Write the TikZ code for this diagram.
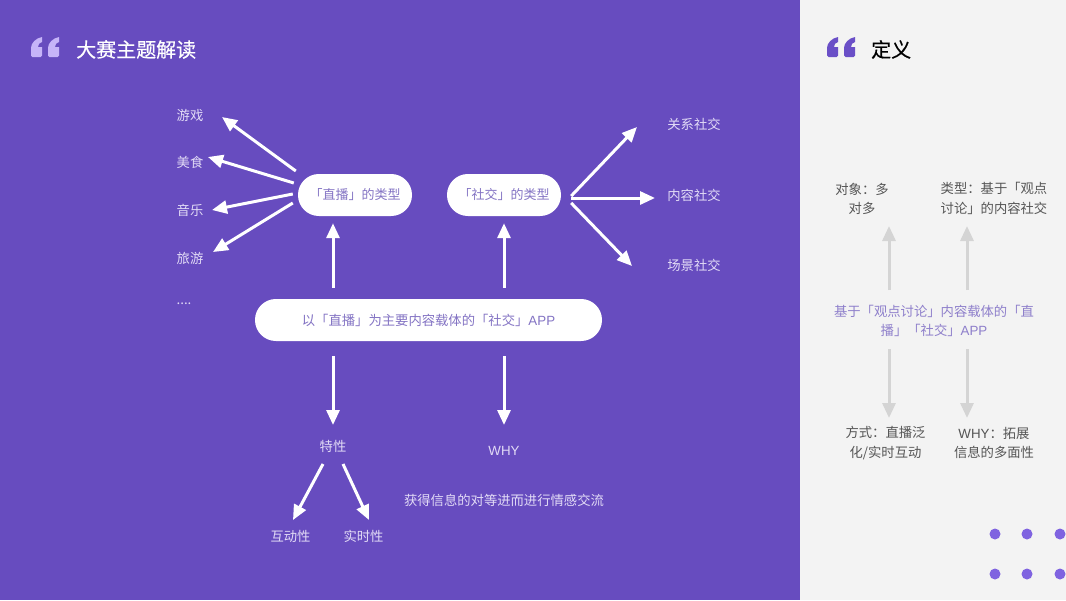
\documentclass[tikz,border=0pt]{standalone}
\usepackage{fontspec}
\setmainfont{Noto Sans CJK SC}
\newfontfamily\lat{Liberation Sans}
\usetikzlibrary{arrows.meta}
\definecolor{bgp}{HTML}{674CBF}
\definecolor{panel}{HTML}{F3F3F3}
\definecolor{lbl}{HTML}{E2DBF6}
\definecolor{pilltxt}{HTML}{8474C4}
\definecolor{gtxt}{HTML}{555555}
\definecolor{deftxt}{HTML}{8E7FCB}
\definecolor{garrow}{HTML}{D4D4D4}
\definecolor{qlight}{HTML}{C6B4F8}
\definecolor{qdark}{HTML}{6A4FC7}
\definecolor{dotc}{HTML}{7F63E0}
\tikzset{
  pill/.style={fill=white,rounded corners=20.9pt,inner sep=0pt,minimum height=42pt,text=pilltxt,font=\fontsize{13.33}{19.5}\selectfont},
  smallpill/.style={pill,minimum width=114pt,font=\fontsize{13}{19.5}\selectfont},
  lab/.style={inner sep=0pt,text=lbl,font=\fontsize{13.33}{19.5}\selectfont},
  note/.style={inner sep=0pt,text=gtxt,align=center,font=\fontsize{13.33}{19.5}\selectfont},
  ttl/.style={inner sep=0pt,anchor=west,font=\fontsize{20}{24}\selectfont\addfontfeature{FakeBold=0.4}},
  arr/.style={draw=white,line width=3pt,-{Triangle[length=15pt,width=13pt]}},
  garr/.style={draw=garrow,line width=3pt,-{Triangle[length=15pt,width=13pt]}},
  dotn/.style={circle,fill=dotc,draw=none,minimum size=11pt,inner sep=0pt},
}
\newcommand{\quotemark}[3]{%
  \foreach \dx in {0,17}{
    \begin{scope}[shift={(#1+\dx,#2)}]
    \fill[#3] (0,11) .. controls (0,6) and (5,1) .. (11,0)
      -- (11,5) .. controls (8.5,5.5) and (7,7.5) .. (7,10)
      -- (11,10) -- (11,18.5) .. controls (11,19.5) and (10.5,20) .. (9.5,20)
      -- (1.5,20) .. controls (0.5,20) and (0,19.5) .. (0,18.5) -- cycle;
    \end{scope}
  }}
\begin{document}
\begin{tikzpicture}[x=1pt,y=-1pt]
\useasboundingbox (0,0) rectangle (1066,600);
\fill[bgp] (0,0) rectangle (800,600);
\fill[panel] (800,0) rectangle (1066,600);
\quotemark{31}{37}{qlight}
\quotemark{827}{37}{qdark}
\node[ttl,text=white] (title1) at (76,49.5) {大赛主题解读};
\node[ttl,text=black] (title2) at (871,49.5) {定义};

\node[smallpill] (live) at (355,195) {「直播」的类型};
\node[smallpill] (social) at (504,195) {「社交」的类型};
\node[pill,minimum width=347pt] (main) at (428.5,320) {以「直播」为主要内容载体的「社交」{\lat APP}};

\node[lab] (game) at (190,115.5) {游戏};
\node[lab] (food) at (190,162.5) {美食};
\node[lab] (music) at (190,210.5) {音乐};
\node[lab] (travel) at (190,258.5) {旅游};
\node[lab] (more) at (184,304) {....};
\node[lab] (guanxi) at (694,124.5) {关系社交};
\node[lab] (neirong) at (694,195.5) {内容社交};
\node[lab] (changjing) at (694,265.5) {场景社交};
\node[lab] (traits) at (333,446.5) {特性};
\node[lab] (why) at (504,450.5) {{\lat WHY}};
\node[lab] (gain) at (504,500) {获得信息的对等进而进行情感交流};
\node[lab] (hudong) at (290.5,536.5) {互动性};
\node[lab] (shishi) at (363.5,536.5) {实时性};

\draw[arr] ([shift={(-2,-24)}]live.west) -- ([shift={(32,1.5)}]game.center);
\draw[arr] ([shift={(-4,-12)}]live.west) -- ([shift={(18,-5.5)}]food.center);
\draw[arr] ([shift={(-5,-1)}]live.west) -- ([shift={(22,-0.5)}]music.center);
\draw[arr] ([shift={(-5,8)}]live.west) -- ([shift={(23,-6.5)}]travel.center);
\draw[arr] ([shift={(10,1)}]social.east) -- ([shift={(-57,2.5)}]guanxi.center);
\draw[arr] ([shift={(10,3)}]social.east) -- ([shift={(-39,2.5)}]neirong.center);
\draw[arr] ([shift={(10,8)}]social.east) -- ([shift={(-62,0.5)}]changjing.center);
\draw[arr] ([shift={(-95.5,-11)}]main.north) -- ([shift={(-22,7)}]live.south);
\draw[arr] ([shift={(75.5,-11)}]main.north) -- ([shift={(0,7)}]social.south);
\draw[arr] ([shift={(-95.5,15)}]main.south) -- ([shift={(0,-21.5)}]traits.center);
\draw[arr] ([shift={(75.5,15)}]main.south) -- ([shift={(0,-25.5)}]why.center);
\draw[arr] ([shift={(-10,17.5)}]traits.center) -- ([shift={(2.5,-16.5)}]hudong.center);
\draw[arr] ([shift={(10,17.5)}]traits.center) -- ([shift={(5.5,-16.5)}]shishi.center);

\node[note] (obj) at (862,199) {对象：多\\对多};
\node[note] (type) at (994,198.5) {类型：基于「观点\\讨论」的内容社交};
\node[note,text=deftxt] (def) at (934,321) {基于「观点讨论」内容载体的「直\\播」「社交」{\lat APP}};
\node[note] (way) at (885.5,443) {方式：直播泛\\化/实时互动};
\node[note] (whyr) at (994,443) {{\lat WHY}：拓展\\信息的多面性};

\draw[garr] ([shift={(-45,-31)}]def.center) -- ([shift={(27,27)}]obj.center);
\draw[garr] ([shift={(33,-31)}]def.center) -- ([shift={(-27,27.5)}]type.center);
\draw[garr] ([shift={(-45,28)}]def.center) -- ([shift={(3.5,-25)}]way.center);
\draw[garr] ([shift={(33,28)}]def.center) -- ([shift={(-27,-25)}]whyr.center);

\foreach \px/\nm in {995/a,1027/b,1060/c}{
  \node[dotn] (d1\nm) at (\px,534) {};
  \node[dotn] (d2\nm) at (\px,574) {};
}
\end{tikzpicture}
\end{document}
